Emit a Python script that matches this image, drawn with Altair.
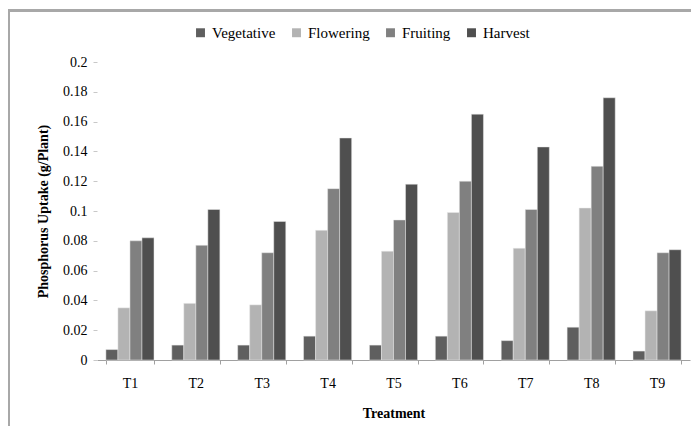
import altair as alt
import pandas as pd

treatments = ["T1", "T2", "T3", "T4", "T5", "T6", "T7", "T8", "T9"]
stages = ["Vegetative", "Flowering", "Fruiting", "Harvest"]
vegetative = [0.007, 0.010, 0.010, 0.016, 0.010, 0.016, 0.013, 0.022, 0.006]
flowering = [0.035, 0.038, 0.037, 0.087, 0.073, 0.099, 0.075, 0.102, 0.033]
fruiting = [0.080, 0.077, 0.072, 0.115, 0.094, 0.120, 0.101, 0.130, 0.072]
harvest = [0.082, 0.101, 0.093, 0.149, 0.118, 0.165, 0.143, 0.176, 0.074]
colors = ["#5f5f5f", "#b3b3b3", "#808080", "#4f4f4f"]

rows = []
for stage, vals in zip(stages, [vegetative, flowering, fruiting, harvest]):
    for t, v in zip(treatments, vals):
        rows.append({"Treatment": t, "Stage": stage, "Value": v})
df = pd.DataFrame(rows)

font = "Liberation Serif"

bars = alt.Chart(df).mark_bar(stroke="#e8e8e8", strokeWidth=0.5).encode(
    x=alt.X("Treatment:N", sort=treatments,
            scale=alt.Scale(paddingInner=0.27, paddingOuter=0.135),
            axis=alt.Axis(title="Treatment", labelAngle=0, labelPadding=12,
                          titlePadding=16, tickBand="extent", tickSize=4,
                          domainColor="#a0a0a0", tickColor="#a0a0a0")),
    xOffset=alt.XOffset("Stage:N", sort=stages),
    y=alt.Y("Value:Q",
            scale=alt.Scale(domain=[0, 0.2], nice=False),
            axis=alt.Axis(title="Phosphorus Uptake (g/Plant)", values=[i / 50 for i in range(11)],
                          format="~g", domain=False, grid=False, tickSize=4,
                          tickColor="#c8c8c8", labelPadding=6, titlePadding=12)),
    color=alt.Color("Stage:N", sort=stages,
                    scale=alt.Scale(domain=stages, range=colors),
                    legend=alt.Legend(title=None, orient="none", direction="horizontal",
                                      legendX=96, legendY=-37, symbolType="square",
                                      symbolSize=80, symbolStrokeWidth=0,
                                      columnPadding=13, labelOffset=4, labelFontSize=15)),
)

# figure frame (top and left edges of the picture border)
frame_top = alt.Chart(df).mark_rule(color="#a8a8a8", strokeWidth=1.5).encode(
    x=alt.value(-88.5), x2=alt.value(601), y=alt.value(-51.5))
frame_left = alt.Chart(df).mark_rule(color="#a8a8a8", strokeWidth=1.5).encode(
    x=alt.value(-88.5), y=alt.value(-51.5), y2=alt.value(380))

chart = alt.layer(bars, frame_top, frame_left).properties(
    width=593, height=298,
    autosize=alt.AutoSizeParams(type="none"),
    padding={"left": 89, "top": 54, "right": 1, "bottom": 66},
).configure_view(stroke=None).configure_axis(
    labelFont=font, titleFont=font, labelFontSize=14, titleFontSize=14,
    labelColor="#000000", titleColor="#000000", titleFontWeight="bold",
).configure_legend(labelFont=font, labelColor="#000000")

chart.save("out.html", embed_options={"renderer": "svg", "actions": False})
